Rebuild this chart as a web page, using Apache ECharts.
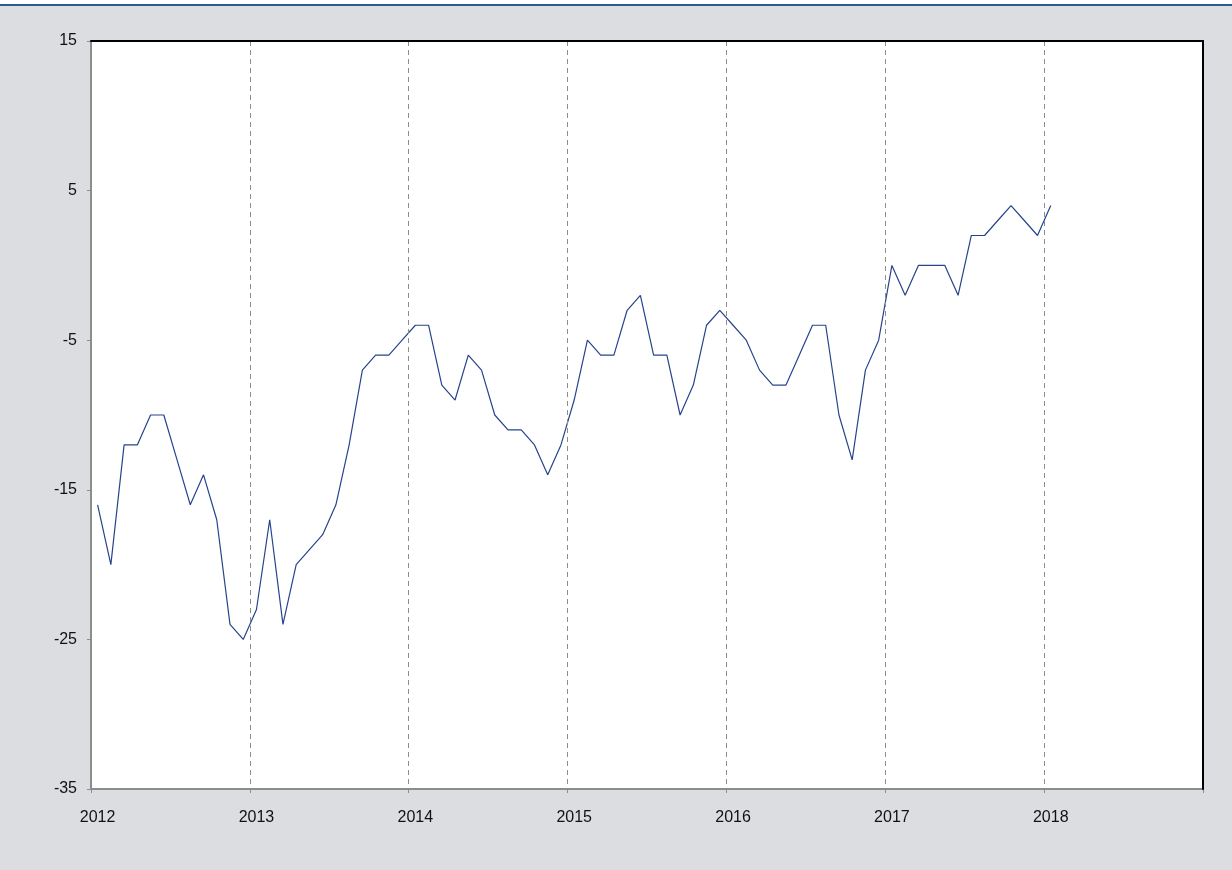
<!DOCTYPE html>
<html>
<head>
<meta charset="utf-8">
<script src="https://cdn.jsdelivr.net/npm/echarts@6/dist/echarts.min.js"></script>
<style>
html,body{margin:0;padding:0;background:#fff;}
#chart{width:1232px;height:870px;}
</style>
</head>
<body>
<div id="chart"></div>
<script>
// Monthly values, Jan 2012 – Jan 2018
const years = ['2012','2013','2014','2015','2016','2017','2018'];
const values2012 = [-16,-20,-12,-12,-10,-10,-13,-16,-14,-17,-24,-25];
const values2013 = [-23,-17,-24,-20,-19,-18,-16,-12,-7,-6,-6,-5];
const values2014 = [-4,-4,-8,-9,-6,-7,-10,-11,-11,-12,-14,-12];
const values2015 = [-9,-5,-6,-6,-3,-2,-6,-6,-10,-8,-4,-3];
const values2016 = [-4,-5,-7,-8,-8,-6,-4,-4,-10,-13,-7,-5];
const values2017 = [0,-2,0,0,0,-2,2,2,3,4,3,2];
const values2018 = [4];
const yTicks = [-35,-25,-15,-5,5,15];

const months = ['01','02','03','04','05','06','07','08','09','10','11','12'];
const categories = [];
years.forEach(y => months.forEach(m => categories.push(y + '-' + m)));
const values = [].concat(values2012, values2013, values2014, values2015, values2016, values2017, values2018);
const seriesData = categories.map((c, i) => i < values.length ? values[i] : null);

const chart = echarts.init(document.getElementById('chart'), null, {renderer: 'canvas'});
const font = '"Liberation Sans", Arial, sans-serif';
chart.setOption({
  backgroundColor: '#dcdde0',
  animation: false,
  graphic: [
    {type: 'rect', left: 0, top: 0, shape: {width: 1232, height: 4}, style: {fill: '#ffffff'}, silent: true},
    {type: 'rect', left: 0, top: 4, shape: {width: 1232, height: 2}, style: {fill: '#2c5b94'}, silent: true}
  ],
  grid: {
    left: 91, top: 41, right: 29, bottom: 81,
    show: true, backgroundColor: '#ffffff', borderWidth: 0
  },
  xAxis: [{
    type: 'category',
    data: categories,
    boundaryGap: true,
    z: 5,
    axisLine: {show: true, onZero: false, lineStyle: {color: '#8c8c8c', width: 2}},
    axisTick: {show: true, interval: 11, length: 4, lineStyle: {color: '#8c8c8c', width: 1}},
    axisLabel: {
      interval: 11, margin: 21, color: '#111111', fontSize: 16, fontFamily: font,
      formatter: v => v.slice(0, 4)
    },
    splitLine: {show: true, interval: 11, lineStyle: {color: '#8c8c8c', width: 1, type: [5, 4]}}
  }, {
    type: 'category',
    data: categories,
    position: 'top',
    z: 6,
    axisLine: {show: true, onZero: false, lineStyle: {color: '#000000', width: 2}},
    axisTick: {show: false},
    axisLabel: {show: false},
    splitLine: {show: false}
  }],
  yAxis: [{
    type: 'value',
    min: yTicks[0], max: yTicks[yTicks.length - 1], interval: 10,
    z: 5,
    axisLine: {show: true, onZero: false, lineStyle: {color: '#8c8c8c', width: 2}},
    axisTick: {show: true, length: 4, lineStyle: {color: '#8c8c8c', width: 1}},
    axisLabel: {margin: 14, color: '#111111', fontSize: 16, fontFamily: font},
    splitLine: {show: false}
  }, {
    type: 'value',
    position: 'right',
    min: yTicks[0], max: yTicks[yTicks.length - 1], interval: 10,
    z: 6,
    axisLine: {show: true, onZero: false, lineStyle: {color: '#000000', width: 2}},
    axisTick: {show: false},
    axisLabel: {show: false},
    splitLine: {show: false}
  }],
  series: [{
    type: 'line',
    data: seriesData,
    xAxisIndex: 0,
    yAxisIndex: 0,
    showSymbol: false,
    symbol: 'none',
    connectNulls: false,
    lineStyle: {color: '#27448a', width: 1.2},
    z: 3
  }]
});
</script>
</body>
</html>
